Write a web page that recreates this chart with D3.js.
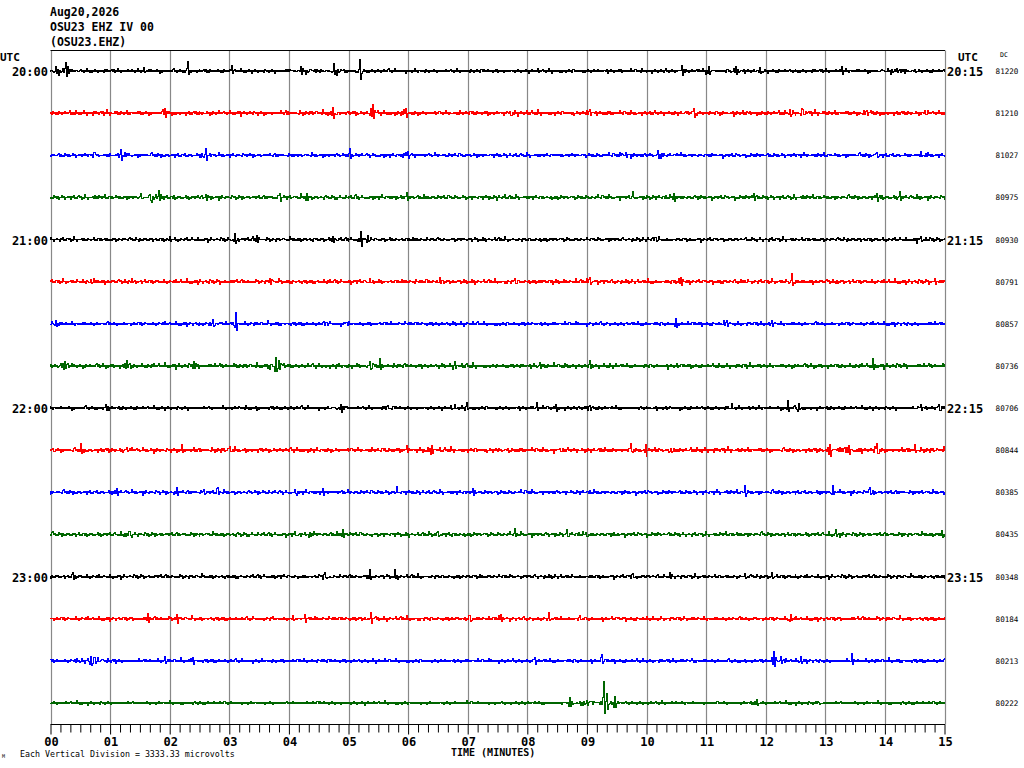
<!DOCTYPE html>
<html>
<head>
<meta charset="utf-8"/>
<title>OSU23 EHZ IV 00</title>
<script src="https://cdn.jsdelivr.net/npm/d3@7"></script>
<style>
  body { margin: 0; background: #fff; }
  svg text { font-family: "DejaVu Sans Mono", monospace; fill: #000; }
</style>
</head>
<body>
<div id="chart"></div>
<script>
// header lines
var headerLines = ["Aug20,2026", "OSU23 EHZ IV 00", "(OSU23.EHZ)"];

// one trace per 15 minutes, four per hour
var leftLabels = ["20:00", "21:00", "22:00", "23:00"];
var rightLabels = ["20:15", "21:15", "22:15", "23:15"];
var traceColors = ["#000000", "#ff0000", "#0000ff", "#006600"];
var dcValues = [81220, 81210, 81027, 80975, 80930, 80791, 80857, 80736,
                80706, 80844, 80385, 80435, 80348, 80184, 80213, 80222];
var minuteTicks = ["00","01","02","03","04","05","06","07","08","09","10","11","12","13","14","15"];
var microvoltsPerDivision = 3333.33;

// background noise level of each trace, microvolts
var noiseLevel = [140, 170, 140, 160, 140, 160, 140, 170, 140, 170, 150, 160, 140, 140, 140, 115];

// events: [minute, peak microvolts, half width in minutes]
var events = [
  [[0.27,650,0.04],[0.1,250,0.3],[1.56,300,0.03],[2.30,650,0.02],[3.05,400,0.02],[4.2,330,0.25],[4.75,380,0.15],[5.2,800,0.05],[10.6,380,0.04],[11.05,330,0.08],[11.5,300,0.08],[11.9,330,0.08],[13.28,330,0.03],[14.2,250,0.25]],
  [[1.92,320,0.05],[4.74,330,0.1],[5.41,550,0.06],[5.97,330,0.06],[7.72,250,0.05],[9.05,320,0.05],[10.8,320,0.04],[12.4,420,0.04],[12.63,330,0.05],[13.7,250,0.1],[14.67,260,0.05]],
  [[0.75,250,0.05],[1.19,420,0.12],[2.62,480,0.08],[5.03,400,0.03],[6.0,250,0.1],[9.65,250,0.1],[10.2,250,0.1],[13.86,330,0.06],[14.6,250,0.1]],
  [[1.67,420,0.2],[1.82,550,0.03],[2.62,250,0.05],[3.85,250,0.05],[4.3,330,0.03],[5.99,330,0.03],[9.76,400,0.04],[10.47,250,0.05],[11.8,330,0.03],[13.87,330,0.04],[14.25,330,0.04]],
  [[2.0,330,0.03],[3.1,480,0.06],[3.46,250,0.08],[4.74,250,0.06],[5.22,550,0.04],[5.33,480,0.03],[10.17,250,0.05],[14.6,250,0.1]],
  [[0.69,250,0.08],[1.36,330,0.03],[3.68,250,0.05],[5.36,330,0.04],[6.54,330,0.05],[7.8,330,0.03],[9.05,400,0.03],[10.59,330,0.04],[11.7,250,0.05],[12.43,400,0.04],[14.84,330,0.04]],
  [[0.1,250,0.08],[2.73,330,0.08],[3.12,950,0.03],[4.63,250,0.05],[4.97,250,0.03],[10.5,330,0.05],[11.35,330,0.08],[12.1,330,0.05]],
  [[0.25,330,0.1],[1.28,330,0.06],[2.4,330,0.02],[3.78,720,0.1],[5.36,480,0.06],[5.53,400,0.03],[6.79,400,0.03],[8.21,250,0.03],[9.05,250,0.03],[13.8,330,0.04]],
  [[0.94,250,0.03],[4.86,250,0.15],[5.66,250,0.05],[6.98,480,0.02],[6.79,250,0.03],[8.16,400,0.03],[8.49,250,0.05],[9.05,250,0.05],[11.43,330,0.03],[12.37,550,0.02],[12.56,480,0.03],[14.6,330,0.1],[14.9,330,0.05]],
  [[0.05,250,0.04],[0.52,400,0.02],[1.28,250,0.05],[2.2,400,0.02],[3.01,330,0.03],[5.98,330,0.03],[6.4,330,0.05],[8.55,250,0.05],[9.73,550,0.02],[9.99,330,0.03],[10.42,250,0.05],[13.08,400,0.08],[13.4,330,0.15],[13.86,550,0.05],[14.5,400,0.02]],
  [[1.11,250,0.05],[2.12,330,0.08],[2.59,400,0.02],[2.81,330,0.03],[4.1,250,0.05],[4.57,330,0.04],[5.81,550,0.02],[7.09,250,0.05],[11.65,550,0.03],[13.13,480,0.06],[13.75,400,0.05]],
  [[1.33,250,0.06],[4.27,250,0.15],[4.9,400,0.02],[6.5,250,0.05],[7.8,330,0.02],[8.66,400,0.03],[8.99,330,0.02],[13.19,480,0.02],[14.95,250,0.04]],
  [[0.38,250,0.05],[4.6,330,0.1],[5.36,480,0.03],[5.78,400,0.02],[9.76,250,0.05],[10.4,330,0.02],[11.65,250,0.05],[12.1,330,0.05]],
  [[1.64,330,0.04],[2.12,330,0.04],[4.07,330,0.05],[4.27,400,0.04],[5.39,550,0.06],[7.04,330,0.03],[7.57,250,0.04],[8.37,480,0.02],[8.88,330,0.03],[12.41,250,0.04]],
  [[0.75,330,0.3],[0.69,400,0.03],[1.92,330,0.03],[2.39,250,0.05],[8.13,250,0.04],[9.25,550,0.02],[10.76,250,0.04],[12.13,630,0.04],[12.25,330,0.08],[12.6,480,0.02],[13.45,480,0.02]],
  [[8.71,330,0.05],[9.0,250,0.3],[9.28,1980,0.02],[9.33,800,0.04],[9.47,400,0.06],[11.85,250,0.04],[12.9,200,0.05]]
];

// drawing texture for the wiggle (style only, not data): two tables of
// coprime length so the pattern does not visibly repeat
var wiggle = [1, -0.35, 0.6, -0.9, 0.2, -0.5, 1.3, -0.25, 0.45, -1, 0.3, -0.7, 0.1, -0.4, 0.9, -0.3,
              0.55, -1.2, 0.25, -0.6, 0.8, -0.15, 0.35, -0.85, 0.5, -0.2, 1.1, -0.45, 0.15, -0.65, 0.7];
var wiggleGain = [0.5, 1.1, 0.7, 0.4, 1.3, 0.6, 0.9, 0.45, 1.0, 0.55, 0.8, 1.2, 0.35, 0.75, 0.95, 0.5, 1.05, 0.65, 0.4, 0.85, 1.15, 0.6, 0.7];

var W = 1024, H = 768;
var svg = d3.select("#chart").append("svg").attr("width", W).attr("height", H);

var x = d3.scaleLinear().domain([0, 15]).range([50.5, 944.5]);
var row = d3.scalePoint().domain(d3.range(16)).range([71, 703]);
var rowStep = row.step();
var amp = d3.scaleLinear().domain([0, microvoltsPerDivision]).range([0, rowStep]);

var plotTop = 50.5, axisY = 724.5;

// header
svg.selectAll("text.hdr").data(headerLines).enter().append("text")
  .attr("x", 50).attr("y", function(d, i) { return 16 + i * 15; })
  .style("font-size", "11.5px").style("font-weight", "bold")
  .text(function(d) { return d; });

// vertical minute grid
svg.selectAll("line.grid").data(d3.range(16)).enter().append("line")
  .attr("x1", function(d) { return Math.round(x(d)) + 0.5; })
  .attr("x2", function(d) { return Math.round(x(d)) + 0.5; })
  .attr("y1", plotTop).attr("y2", axisY)
  .attr("stroke", "#888888").attr("stroke-width", 1.2);

// top border and time axis
svg.append("line").attr("x1", x(0)).attr("x2", x(15) + 0.5).attr("y1", plotTop).attr("y2", plotTop)
  .attr("stroke", "#000").attr("stroke-width", 1);

var axis = d3.axisBottom(x)
  .tickValues(d3.range(0, 15.0001, 1 / 6))
  .tickSize(8)
  .tickFormat(function() { return ""; });
var ax = svg.append("g").attr("transform", "translate(0," + axisY + ")").call(axis);
ax.select(".domain").attr("stroke", "#000").attr("d", "M" + x(0) + ",0H" + (x(15) + 0.5));
ax.selectAll(".tick line").attr("stroke", "#000")
  .attr("y2", function(d) { return Math.abs(d - Math.round(d)) < 1e-6 ? 10 : 8; });

svg.selectAll("text.min").data(minuteTicks).enter().append("text")
  .attr("x", function(d, i) { return x(i) + 1; }).attr("y", 746)
  .attr("text-anchor", "middle")
  .style("font-size", "12px").style("font-weight", "bold")
  .text(function(d) { return d; });

svg.append("text").attr("x", 451).attr("y", 756)
  .style("font-size", "10px").style("font-weight", "bold")
  .text("TIME (MINUTES)");

svg.append("text").attr("x", 20).attr("y", 757)
  .style("font-size", "8.3px")
  .text("Each Vertical Division = " + microvoltsPerDivision.toFixed(2) + " microvolts");
svg.append("text").attr("x", 2).attr("y", 758).style("font-size", "5px").text("M");

// side labels
svg.append("text").attr("x", 0).attr("y", 61).style("font-size", "11px").style("font-weight", "bold").text("UTC");
svg.append("text").attr("x", 958).attr("y", 61).style("font-size", "11px").style("font-weight", "bold").text("UTC");
svg.append("text").attr("x", 1000).attr("y", 57).style("font-size", "6.5px").text("DC");

svg.selectAll("text.left").data(leftLabels).enter().append("text")
  .attr("x", 48).attr("y", function(d, i) { return row(i * 4) + 5; })
  .attr("text-anchor", "end")
  .style("font-size", "12px").style("font-weight", "bold")
  .text(function(d) { return d; });

svg.selectAll("text.right").data(rightLabels).enter().append("text")
  .attr("x", 947).attr("y", function(d, i) { return row(i * 4) + 5; })
  .style("font-size", "12px").style("font-weight", "bold")
  .text(function(d) { return d; });

svg.selectAll("text.dc").data(dcValues).enter().append("text")
  .attr("x", 1007).attr("y", function(d, i) { return row(i) + 3; })
  .attr("text-anchor", "middle")
  .style("font-size", "7.6px")
  .text(function(d) { return d; });

// traces: one sample per second, envelope from noise level and events
function traceSamples(k) {
  var n = wiggle.length, m = wiggleGain.length;
  var pts = [];
  for (var i = 0; i <= 900; i++) {
    var t = i / 60;
    var j = i + k * 11;
    var v = noiseLevel[k] * wiggle[j % n] * wiggleGain[(j * 3) % m];
    events[k].forEach(function(e) {
      var ic = Math.round(e[0] * 60);
      var g = Math.exp(-Math.pow((t - e[0]) / e[2], 2));
      if (g < 0.02) return;
      var s = i === ic ? 1 : (i === ic + 1 ? -0.8 : 0.55 * wiggle[(i * 5 + 3) % n]);
      v += e[1] * g * s;
    });
    pts.push({ t: t, v: v });
  }
  return pts;
}

svg.selectAll("path.trace").data(d3.range(16)).enter().append("path")
  .attr("fill", "none")
  .attr("stroke", function(k) { return traceColors[k % 4]; })
  .attr("stroke-width", 1)
  .attr("shape-rendering", "crispEdges")
  .attr("d", function(k) {
    var y0 = row(k);
    return d3.line()
      .x(function(d) { return x(d.t); })
      .y(function(d) { return y0 - amp(d.v); })
      .curve(d3.curveStep)(traceSamples(k));
  });
</script>
</body>
</html>
